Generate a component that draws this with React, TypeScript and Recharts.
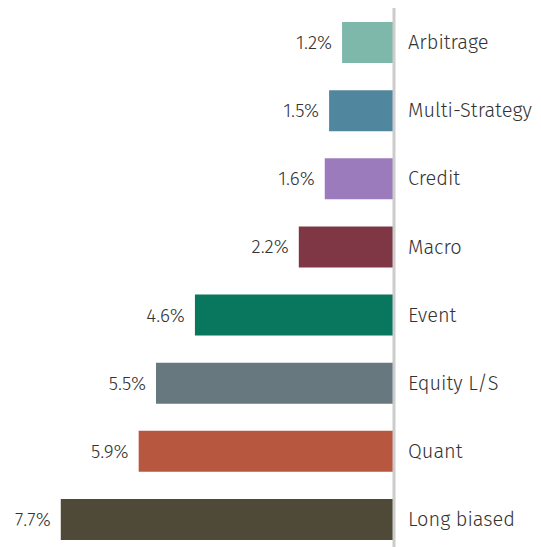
import { BarChart, Bar, XAxis, YAxis, Cell, LabelList } from 'recharts';

const categories = ['Arbitrage', 'Multi-Strategy', 'Credit', 'Macro', 'Event', 'Equity L/S', 'Quant', 'Long biased'];
const values = [1.2, 1.5, 1.6, 2.2, 4.6, 5.5, 5.9, 7.7];
const colors = ['#7db8ab', '#50869e', '#9b7bbb', '#7f3745', '#08775e', '#67797f', '#b85740', '#4f4a37'];

const data = categories.map((name, i) => ({ name, value: values[i] }));

const FONT = '"Fira Sans", "Noto Sans", sans-serif';

const ValueLabel = (props: any) => {
  const { x, y, width, height, value } = props;
  const left = Math.min(x, x + width);
  return (
    <text
      x={left - 10}
      y={y + height / 2}
      textAnchor="end"
      dominantBaseline="central"
      fill="#333"
      fontSize={19}
      fontWeight={300}
      fontFamily={FONT}
    >
      {`${value}%`}
    </text>
  );
};

const App = () => {
  return (
    <BarChart
      width={533}
      height={545}
      data={data}
      layout="vertical"
      margin={{ top: 0, right: 0, bottom: 0, left: 9.5 }}
    >
      <XAxis type="number" domain={[0, 8.7]} reversed hide />
      <YAxis
        type="category"
        dataKey="name"
        orientation="right"
        width={147}
        tickLine={false}
        tickSize={0}
        tickMargin={14}
        axisLine={{ stroke: '#cccccc', strokeWidth: 3 }}
        tick={{ fill: '#333', fontSize: 20, fontWeight: 300, fontFamily: FONT }}
      />
      <Bar dataKey="value" barSize={41} isAnimationActive={false}>
        {data.map((d, i) => (
          <Cell key={d.name} fill={colors[i]} />
        ))}
        <LabelList dataKey="value" content={<ValueLabel />} />
      </Bar>
    </BarChart>
  );
};

export default App;
